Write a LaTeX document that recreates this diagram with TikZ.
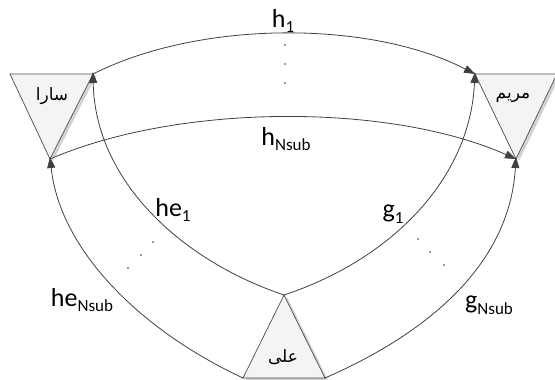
\documentclass[tikz,border=0pt]{standalone}
\usepackage{fontspec}
\setmainfont{Carlito}
\newfontfamily\arabicfont[Script=Arabic]{DejaVu Sans}
\TeXXeTstate=1
\usetikzlibrary{arrows.meta}
\newcommand{\lblsub}[2]{#1\raisebox{-0.22em}{\fontsize{17}{17}\selectfont #2}}
\begin{document}
\begin{tikzpicture}[x=1pt,y=-1pt,
  tri/.style={draw=black!70,line width=0.7pt,fill=gray!9},
  shadowfill/.style={fill=gray!35},
  link/.style={draw=black!75,line width=0.8pt,-{Triangle[length=11pt,width=8pt]}},
  lbl/.style={font=\fontsize{26}{28}\selectfont,inner sep=0pt},
  pname/.style={font=\arabicfont\fontsize{17}{20}\selectfont,inner sep=0pt},
  dotfill/.style={fill=black!80}]
\useasboundingbox (0,0) rectangle (555,380);
% triangle corners
\coordinate (sTL) at (10,74);
\coordinate (sTR) at (93,74);
\coordinate (sB) at (50,159);
\coordinate (mTL) at (475,74);
\coordinate (mTR) at (557,74);
\coordinate (mB) at (516,159);
\coordinate (aT) at (284,295);
\coordinate (aL) at (243,378);
\coordinate (aR) at (325,378);
% shadows
\fill[shadowfill] ([shift={(3,2)}]sTL) -- ([shift={(3,2)}]sTR) -- ([shift={(3,2)}]sB) -- cycle;
\fill[shadowfill] ([shift={(3,2)}]mTL) -- ([shift={(3,2)}]mTR) -- ([shift={(3,2)}]mB) -- cycle;
\fill[shadowfill] ([shift={(3,2)}]aT) -- ([shift={(3,2)}]aL) -- ([shift={(3,2)}]aR) -- cycle;
% triangles
\path[tri] (sTL) -- (sTR) -- (sB) -- cycle;
\path[tri] (mTL) -- (mTR) -- (mB) -- cycle;
\path[tri] (aT) -- (aL) -- (aR) -- cycle;
% names
\node[pname] (sara) at (52,96) {\beginR سارا\endR};
\node[pname] (maryam) at (513,98) {\beginR مریم\endR};
\node[pname] (ali) at (283,357) {\beginR على\endR};
% connectors
\draw[link] (sTR) .. controls (200,20) and (370,20) .. (mTL);
\draw[link] (sB) .. controls (180,103) and (390,103) .. (mB);
\draw[link] (aT) .. controls (180,260) and (95,180) .. ([yshift=2]sTR);
\draw[link] (aL) .. controls (140,330) and (60,250) .. ([yshift=2]sB);
\draw[link] (aT) .. controls (390,260) and (470,180) .. ([yshift=2]mTL);
\draw[link] (aR) .. controls (435,330) and (510,260) .. ([yshift=2]mB);
% labels
\node[lbl] (h1) at (283,21) {\lblsub{h}{1}};
\node[lbl] (hN) at (286,139) {\lblsub{h}{Nsub}};
\node[lbl] (he1) at (173,210) {\lblsub{he}{1}};
\node[lbl] (g1) at (393,214) {\lblsub{g}{1}};
\node[lbl] (heN) at (82,300) {\lblsub{he}{Nsub}};
\node[lbl] (gN) at (489,305) {\lblsub{g}{Nsub}};
% dots
\foreach \p in {(285,45),(285,64),(285,83),(153,242),(141,255),(128,268),(418,239),(430,252),(444,265)}
  \fill[dotfill] \p circle (0.8);
\end{tikzpicture}
\end{document}
